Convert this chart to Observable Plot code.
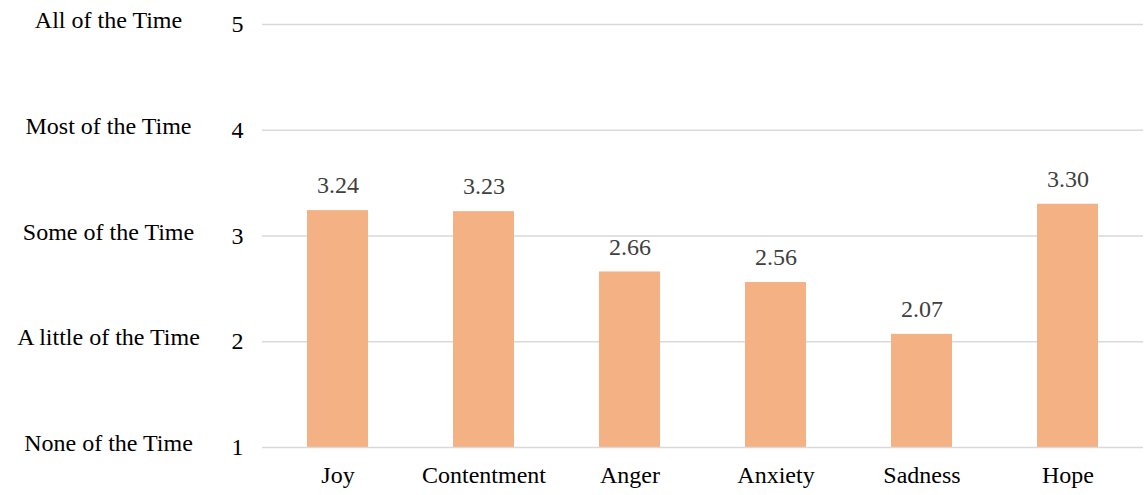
<!DOCTYPE html>
<html>
<head>
<meta charset="utf-8">
<script src="https://cdn.jsdelivr.net/npm/d3@7"></script>
<script src="https://cdn.jsdelivr.net/npm/@observablehq/plot@0.6"></script>
<style>
  html, body { margin: 0; padding: 0; background: #fff; }
  #chart svg { display: block; }
  #chart svg text { font-family: 'Liberation Serif', 'Times New Roman', serif; }
</style>
</head>
<body>
<div id="chart"></div>
<script>
const emotions = ["Joy", "Contentment", "Anger", "Anxiety", "Sadness", "Hope"];
const means = [3.24, 3.23, 2.66, 2.56, 2.07, 3.30];
const levelValues = [1, 2, 3, 4, 5];
const levelLabels = ["None of the Time", "A little of the Time", "Some of the Time", "Most of the Time", "All of the Time"];

const data = emotions.map((e, i) => ({emotion: e, mean: means[i]}));
const levels = levelValues.map((v, i) => ({value: v, label: levelLabels[i]}));

const font = "'Liberation Serif', 'Times New Roman', serif";

const chart = Plot.plot({
  width: 1144,
  height: 495,
  marginTop: 24,
  marginBottom: 48,
  marginLeft: 262,
  marginRight: 1,
  style: {fontFamily: font, fontSize: "24px", background: "#fff"},
  x: {domain: emotions, paddingInner: 0.58, paddingOuter: 0.29, label: null},
  y: {domain: [1, 5], label: null},
  marks: [
    Plot.gridY(levelValues.filter(v => v > 1), {stroke: "#d9d9d9", strokeOpacity: 1, strokeWidth: 1.5}),
    Plot.barY(data, {x: "emotion", y1: 1, y2: "mean", fill: "#F4B183"}),
    Plot.ruleY([1], {stroke: "#d9d9d9", strokeWidth: 1.5}),
    Plot.text(data, {x: "emotion", y: "mean", text: d => d.mean.toFixed(2), dy: -25, fill: "#404040", fontSize: 24, fontFamily: font}),
    Plot.axisY(levelValues, {tickSize: 0, tickPadding: 25, textAnchor: "middle", tickFormat: d3.format("d"), fill: "#000", fontSize: 24, fontFamily: font, label: null}),
    Plot.text(levels, {y: "value", text: "label", frameAnchor: "left", dx: -154, dy: -4, textAnchor: "middle", fill: "#000", fontSize: 24, fontFamily: font}),
    Plot.axisX({tickSize: 0, tickPadding: 18, fill: "#000", fontSize: 24, fontFamily: font, label: null})
  ]
});
document.getElementById("chart").appendChild(chart);
</script>
</body>
</html>
